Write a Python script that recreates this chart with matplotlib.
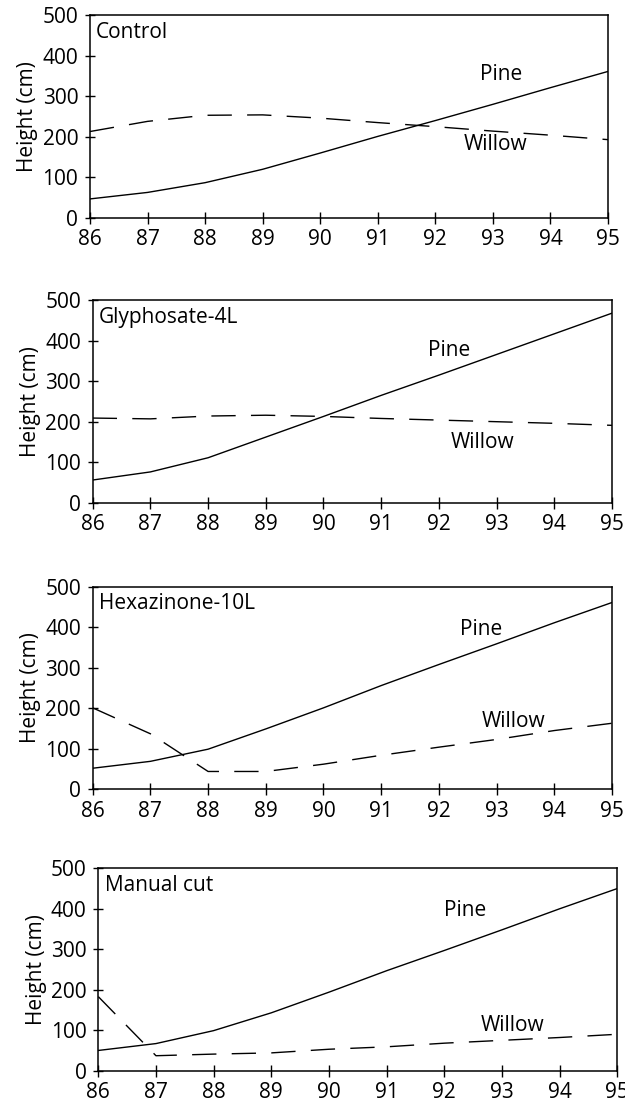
import matplotlib
matplotlib.use("Agg")
import matplotlib.pyplot as plt

plt.rcParams['font.family'] = ['Open Sans', 'DejaVu Sans']
plt.rcParams['lines.scale_dashes'] = False

years = [86, 87, 88, 89, 90, 91, 92, 93, 94, 95]
treatments = ["Control", "Glyphosate-4L", "Hexazinone-10L", "Manual cut"]

pine_control = [47, 63, 87, 120, 160, 201, 240, 280, 321, 361]
willow_control = [213, 238, 253, 254, 246, 235, 225, 214, 204, 193]

pine_glyph = [56, 76, 111, 162, 213, 265, 315, 366, 417, 468]
willow_glyph = [209, 207, 214, 216, 213, 208, 204, 200, 196, 191]

pine_hexa = [52, 69, 99, 149, 201, 256, 308, 359, 411, 461]
willow_hexa = [201, 137, 44, 44, 62, 84, 104, 123, 145, 163]

pine_manual = [50, 67, 99, 143, 194, 247, 297, 348, 400, 450]
willow_manual = [183, 37, 41, 44, 53, 59, 68, 75, 82, 90]

pine_series = [pine_control, pine_glyph, pine_hexa, pine_manual]
willow_series = [willow_control, willow_glyph, willow_hexa, willow_manual]

# label positions (data coords): (x, y) for Pine, Willow
pine_lbl = [(92.78, 353), (91.81, 376), (92.37, 395), (92.0, 395)]
willow_lbl = [(92.5, 181), (92.2, 149), (92.75, 167), (92.63, 111)]

W, H = 625.0, 1103.0
# pixel boxes: left, right, top, bottom
boxes = [
    (90, 608, 15, 218),
    (92.7, 612, 300.2, 502.7),
    (92.7, 612, 586.7, 789.3),
    (98.3, 617.3, 868.3, 1070.7),
]

fig = plt.figure(figsize=(W / 100, H / 100), dpi=100)

for i, (l, r, t, b) in enumerate(boxes):
    ax = fig.add_axes([l / W, 1 - b / H, (r - l) / W, (b - t) / H])
    ax.plot(years, pine_series[i], color='black', lw=1.0)
    ax.plot(years, willow_series[i], color='black', lw=1.0, dashes=(17.5, 11))
    ax.set_xlim(86, 95)
    ax.set_ylim(0, 500)
    ax.set_xticks(years)
    ax.set_yticks([0, 100, 200, 300, 400, 500])
    ax.tick_params(axis='x', direction='inout', length=8.5, width=1, labelsize=15, pad=4)
    ax.tick_params(axis='y', direction='inout', length=7, width=1, labelsize=15, pad=5)
    for s in ax.spines.values():
        s.set_linewidth(1.1)
    ax.set_ylabel("Height (cm)", fontsize=15, labelpad=3)
    ax.text(0.012, 0.915, treatments[i], transform=ax.transAxes, fontsize=15,
            ha='left', va='center')
    ax.text(pine_lbl[i][0], pine_lbl[i][1], "Pine", fontsize=15, ha='left', va='center')
    ax.text(willow_lbl[i][0], willow_lbl[i][1], "Willow", fontsize=15, ha='left', va='center')

fig.savefig("out.png", dpi=100)
